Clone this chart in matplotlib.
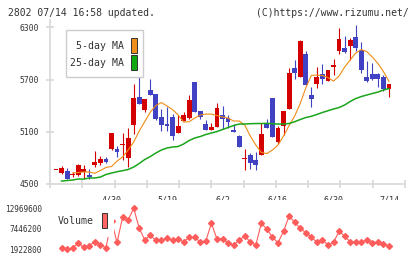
import numpy as np
import matplotlib
matplotlib.use("Agg")
import matplotlib.pyplot as plt
from matplotlib.patches import Rectangle

plt.rcParams['font.family'] = ['DejaVu Sans Mono']

###########################
# data (one entry per trading day)
opens = [4657, 4626, 4649, 4605, 4600, 4641, 4607, 4718, 4745, 4791,
         4902, 4902, 4945, 4802, 5175, 5497, 5351, 5580, 5534, 5267,
         5190, 5273, 5090, 5227, 5262, 5672, 5342, 5190, 5121, 5152,
         5293, 5259, 5124, 5052, 4790, 4833, 4776, 4837, 5198, 5488,
         4986, 5170, 5365, 5833, 5733, 5994, 5523, 5653, 5764, 5687,
         5848, 6032, 6063, 6086, 6190, 6040, 5730, 5764, 5764, 5730, 5588]
closes = [4657, 4684, 4561, 4610, 4718, 4669, 4584, 4756, 4787, 4753,
          5083, 4871, 4960, 5025, 5485, 5419, 5477, 5526, 5247, 5182,
          5167, 5055, 5167, 5293, 5465, 5327, 5273, 5121, 5152, 5370,
          5251, 5216, 5101, 4929, 4799, 4745, 4722, 5075, 5147, 5044,
          5147, 5339, 5776, 5772, 6144, 5641, 5474, 5730, 5710, 5810,
          5871, 6167, 6017, 6155, 6067, 5810, 5684, 5707, 5707, 5592, 5649]
highs = [4657, 4710, 4680, 4641, 4730, 4715, 4669, 4879, 4822, 4810,
         5090, 4937, 5083, 5140, 5649, 5726, 5477, 5707, 5534, 5358,
         5381, 5301, 5293, 5331, 5523, 5672, 5342, 5236, 5198, 5428,
         5396, 5293, 5186, 5060, 4902, 4860, 4864, 5198, 5247, 5488,
         5167, 5339, 5830, 5925, 6155, 6029, 5615, 5845, 5883, 5810,
         5937, 6297, 6205, 6175, 6331, 6132, 5913, 5891, 5776, 5753, 5649]
lows = [4657, 4615, 4554, 4577, 4592, 4561, 4554, 4692, 4718, 4745,
        4891, 4814, 4776, 4699, 5075, 5419, 5331, 5526, 5235, 5106,
        5106, 5002, 5090, 5227, 5247, 5327, 5247, 5121, 5121, 5152,
        5136, 5140, 5101, 4929, 4664, 4676, 4664, 4837, 5147, 5044,
        4960, 5063, 5365, 5710, 5733, 5641, 5388, 5607, 5646, 5687,
        5756, 5991, 6006, 5931, 6029, 5779, 5667, 5690, 5618, 5569, 5503]

ma5 = [np.nan, np.nan, np.nan,
       4626, 4632, 4638, 4638, 4623, 4655, 4690, 4701, 4764, 4810, 4891,
       4983, 5109, 5218, 5327, 5402, 5436, 5396, 5356, 5293, 5212, 5216,
       5258, 5293, 5304, 5304, 5287, 5270, 5258, 5224, 5224, 5178, 5052,
       4948, 4862, 4850, 4891, 4948, 5052, 5172, 5281, 5425, 5603, 5747,
       5752, 5747, 5724, 5683, 5741, 5844, 5925, 6005, 6045, 6022, 5959,
       5885, 5793, 5678]
ma25 = [np.nan,
        4534, 4540, 4546, 4557, 4557, 4569, 4569, 4580, 4609, 4626,
        4641, 4653, 4667, 4695, 4736, 4782, 4816, 4856, 4891, 4914,
        4925, 4931, 4960, 5000, 5029, 5046, 5069, 5086, 5103, 5126,
        5149, 5172, 5189, 5189, 5193, 5195, 5195, 5197, 5193, 5189,
        5189, 5195, 5216, 5241, 5264, 5278, 5299, 5322, 5342, 5362,
        5379, 5408, 5448, 5482, 5505, 5523, 5540, 5557, 5580, 5597]

volume = [np.nan,
          2180000, 1922800, 2360000, 3530000, 2450000, 2900000, 3980000, 3080000, 2360000,
          9550000, 3800000, 10540000, 9820000, 12969600, 7570000, 4430000, 5690000, 4340000, 4340000,
          4880000, 4340000, 4790000, 3890000, 5150000, 5150000, 3890000, 4160000, 8920000, 4700000,
          4790000, 3620000, 3080000, 4340000, 5510000, 3890000, 3080000, 8920000, 7390000, 5150000,
          3710000, 6760000, 10890000, 9190000, 7570000, 6400000, 5150000, 3890000, 4430000, 3080000,
          3800000, 6760000, 5510000, 3890000, 3890000, 3980000, 4340000, 3710000, 3890000, 3440000, 2810000]

date_labels = ['4/30', '5/19', '6/2', '6/16', '6/30', '7/14']
date_idx = [10, 20, 30, 40, 50, 60]
price_ticks = [4500, 5100, 5700, 6300]
vol_ticks = [1922800, 7446200, 12969600]

###########################
# layout helpers (pixel based)
W, H = 420, 259
X0, DX = 56, 5.55          # pixel of first candle, pixels per day
PX_PER_YEN = 52.2 / 600

def rect(x0, y0, x1, y1):
    return [x0 / W, 1 - y1 / H, (x1 - x0) / W, (y1 - y0) / H]

GRID = '#d8d8d8'
TXT = '#333333'
RED = '#d40000'
BLUE = '#4141c3'

fig = plt.figure(figsize=(W / 100, H / 100), dpi=100)

# price panel
ax = fig.add_axes(rect(50, 20, 405, 184))
ax.set_xlim((50 - X0) / DX, (405 - X0) / DX)
ax.set_ylim(4500, 4500 + 164 / PX_PER_YEN)

idx = np.arange(len(opens))
o = np.array(opens); c = np.array(closes)
up = c >= o
colors = np.where(up, RED, BLUE)
bottom = np.minimum(o, c)
height = np.maximum(np.abs(c - o), 12)

ax.vlines(idx, lows, highs, colors=colors, lw=0.8, zorder=2)
ax.bar(idx, height, bottom=bottom, width=0.88, color=colors, zorder=3)
ax.plot(idx, ma5, color='#f08c14', lw=0.8, zorder=4)
ax.plot(idx, ma25, color='#1aa51a', lw=1.1, zorder=4)

for s in ['top', 'right']:
    ax.spines[s].set_visible(False)
for s in ['left', 'bottom']:
    ax.spines[s].set_color(GRID)
    ax.spines[s].set_linewidth(1.2)
ax.set_yticks(price_ticks)
ax.set_yticklabels([str(p) for p in price_ticks])
ax.set_xticks(date_idx)
ax.set_xticklabels(date_labels)
ax.set_xticks([(50 + 32.27 * k - X0) / DX for k in range(12)], minor=True)
ax.tick_params(axis='y', direction='inout', length=6, width=1.2, color=GRID,
               labelsize=5.8, labelcolor=TXT, pad=5)
ax.tick_params(axis='x', which='major', length=0, labelsize=6, labelcolor=TXT, pad=8)
ax.tick_params(axis='x', which='minor', direction='inout', length=6, width=1.2, color=GRID)

# volume panel
vpx = (12969600 - 1922800) / 41.0
axv = fig.add_axes(rect(50, 200, 405, 255))
axv.set_xlim(ax.get_xlim())
axv.set_ylim(1922800 - 5.7 * vpx, 12969600 + 8.3 * vpx)
axv.plot(idx, volume, '-D', color='#ff5c5c', lw=0.8, ms=3.0, zorder=3)
for s in axv.spines.values():
    s.set_visible(False)
axv.set_xticks([])
axv.set_yticks(vol_ticks)
axv.set_yticklabels([str(v) for v in vol_ticks])
axv.tick_params(axis='y', length=0, labelsize=5.6, labelcolor=TXT, pad=6)

# header texts
fig.text(8 / W, 1 - 13 / H, '2802 07/14 16:58 updated.', fontsize=7.0,
         color=TXT, va='center', ha='left')
fig.text(409 / W, 1 - 13 / H, '(C)https://www.rizumu.net/', fontsize=7.0,
         color=TXT, va='center', ha='right')

# MA legend box
fig.patches.append(Rectangle((65.7 / W, 1 - 77.3 / H), 77.6 / W, 47.3 / H,
                             transform=fig.transFigure, facecolor='white',
                             edgecolor='#cccccc', lw=1.0, zorder=5))
fig.text(124.5 / W, 1 - 46 / H, '5-day MA', fontsize=7.1, color=TXT,
         ha='right', va='center', zorder=6)
fig.text(124.5 / W, 1 - 63 / H, '25-day MA', fontsize=7.1, color=TXT,
         ha='right', va='center', zorder=6)
fig.patches.append(Rectangle((130.7 / W, 1 - 53.3 / H), 6.6 / W, 15 / H,
                             transform=fig.transFigure, facecolor='#f0901c',
                             edgecolor='#333333', lw=0.7, zorder=6))
fig.patches.append(Rectangle((130.7 / W, 1 - 69.5 / H), 6.6 / W, 14.3 / H,
                             transform=fig.transFigure, facecolor='#10a810',
                             edgecolor='#333333', lw=0.7, zorder=6))

# volume legend (white backing hides part of the line)
fig.patches.append(Rectangle((55 / W, 1 - 237 / H), 59 / W, 31 / H,
                             transform=fig.transFigure, facecolor='white',
                             edgecolor='none', zorder=5))
fig.text(58 / W, 1 - 221 / H, 'Volume', fontsize=7.1, color=TXT,
         ha='left', va='center', zorder=6)
fig.patches.append(Rectangle((101.7 / W, 1 - 228 / H), 5.6 / W, 15 / H,
                             transform=fig.transFigure, facecolor='#ff6464',
                             edgecolor='#333333', lw=0.7, zorder=6))

fig.savefig('out.png', dpi=100)
